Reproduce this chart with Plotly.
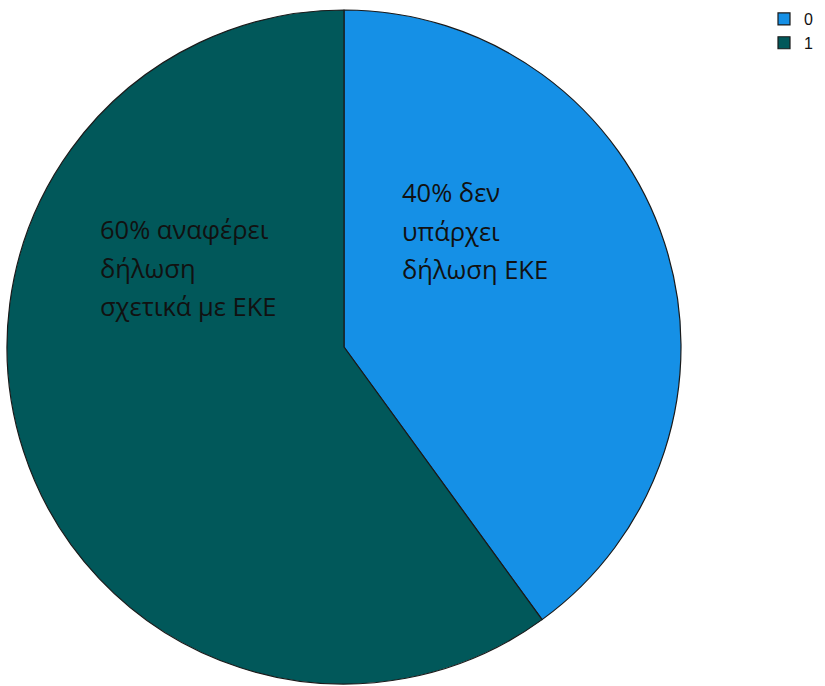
import plotly.graph_objects as go

labels = ["0", "1"]
values = [40, 60]
colors = ["#1590E6", "#01585A"]
slice_lines = [["40% δεν", "υπάρχει", "δήλωση ΕΚΕ"],
               ["60% αναφέρει", "δήλωση", "σχετικά με ΕΚΕ"]]

W, H = 825, 686
fig = go.Figure(go.Pie(
    labels=labels, values=values, sort=False, direction="clockwise", rotation=0,
    marker=dict(colors=colors, line=dict(color="#1a1a1a", width=1.2)),
    textinfo="none", hoverinfo="label+percent",
    domain=dict(x=[7 / W, 681 / W], y=[2 / H, 676 / H]),
))

starts = [(400, 192), (98, 229)]
for lines, (x0, y0) in zip(slice_lines, starts):
    for i, ln in enumerate(lines):
        fig.add_annotation(x=x0 / W, y=1 - (y0 + 38.5 * i) / H, xref="paper", yref="paper",
                           text=ln, showarrow=False, xanchor="left", yanchor="middle",
                           align="left", font=dict(family="Open Sans", size=25.5, color="#111"))

fig.update_layout(
    width=W, height=H, margin=dict(l=0, r=0, t=0, b=0, autoexpand=False),
    paper_bgcolor="white", plot_bgcolor="white",
    legend=dict(x=764 / W, y=0.997, xanchor="left", yanchor="top",
                font=dict(family="Liberation Sans", size=16, color="#111"),
                itemwidth=30, tracegroupgap=0),
)
fig.write_html("out.html")
